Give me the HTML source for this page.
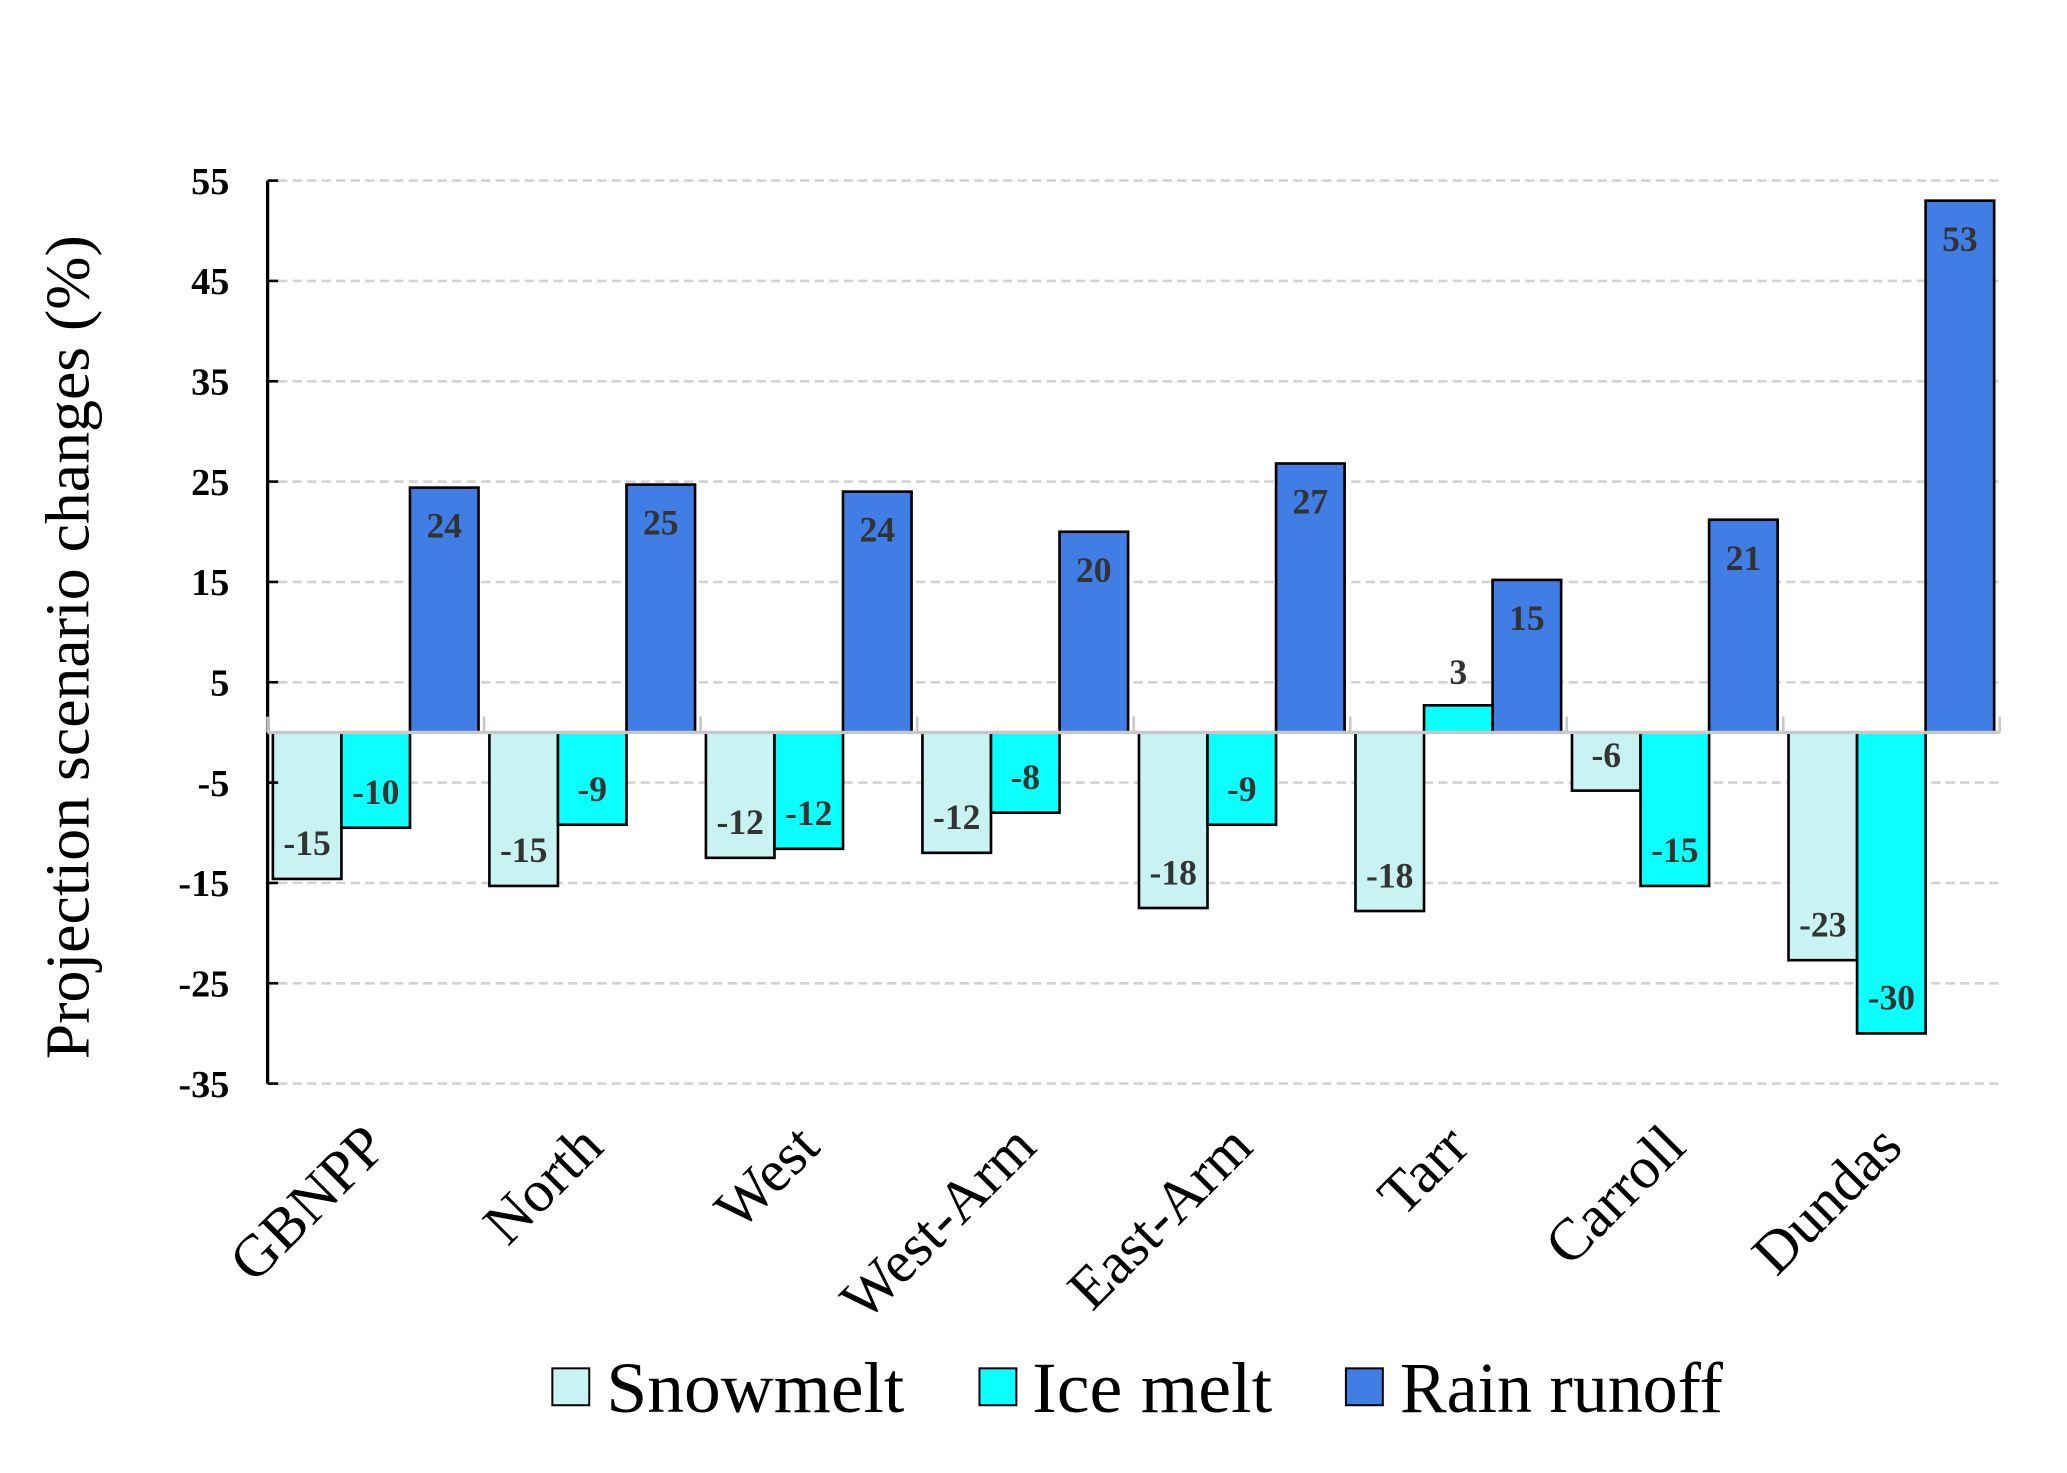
<!DOCTYPE html>
<html><head><meta charset="utf-8"><style>
html,body{margin:0;padding:0;background:#fff;}
svg{display:block;}
text{font-family:"Liberation Serif",serif;}
</style></head><body>
<svg id="chart" width="2067" height="1473" viewBox="0 0 1568 1117.4" xmlns="http://www.w3.org/2000/svg">
<g id="grid"></g>
<g id="bars"></g>
<g id="axes"></g>
<g id="labels"></g>
<text transform="translate(67,491) rotate(-90)" text-anchor="middle" font-size="47" fill="#000" textLength="625" lengthAdjust="spacingAndGlyphs">Projection scenario  changes (%)</text>
<g>
 <g><rect x="419" y="1038" width="28" height="28" fill="#c9f2f2" stroke="#000" stroke-width="1.5"/><text x="460" y="1071" font-size="55" textLength="226" lengthAdjust="spacingAndGlyphs">Snowmelt</text></g>
 <g><rect x="743" y="1038" width="28" height="28" fill="#0cffff" stroke="#000" stroke-width="1.5"/><text x="783" y="1071" font-size="55" textLength="182" lengthAdjust="spacingAndGlyphs">Ice melt</text></g>
 <g><rect x="1021" y="1038" width="28" height="28" fill="#407ee6" stroke="#000" stroke-width="1.5"/><text x="1062" y="1071" font-size="55" textLength="245" lengthAdjust="spacingAndGlyphs">Rain runoff</text></g>
</g>
</svg>
<script>
const categories = ["GBNPP","North","West","West-Arm","East-Arm","Tarr","Carroll","Dundas"];
const snowmelt = [-14.6,-15.3,-12.5,-12,-17.5,-17.8,-5.8,-22.7];
const iceMelt = [-9.5,-9.2,-11.6,-8,-9.2,2.7,-15.3,-30];
const rainRunoff = [24.4,24.7,24,20,26.8,15.2,21.2,53];
const snowLabels = ["-15","-15","-12","-12","-18","-18","-6","-23"];
const iceLabels = ["-10","-9","-12","-8","-9","3","-15","-30"];
const rainLabels = ["24","25","24","20","27","15","21","53"];
const yTicks = [55,45,35,25,15,5,-5,-15,-25,-35];

const NS="http://www.w3.org/2000/svg";
const X0=203, X1=1517, yMax=55, yMin=-35, Ytop=137, Ybot=822;
const groupW=(X1-X0)/categories.length;
function y(v){return Ytop+(yMax-v)*(Ybot-Ytop)/(yMax-yMin);}
function gx(i){return X0+i*groupW;}
function mk(tag,attrs,parent){const e=document.createElementNS(NS,tag);for(const k in attrs)e.setAttribute(k,attrs[k]);parent.appendChild(e);return e;}
const grid=document.getElementById('grid'),bars=document.getElementById('bars'),axes=document.getElementById('axes'),labels=document.getElementById('labels');

yTicks.forEach(t=>{
  const l=mk('line',{x1:X0+8,x2:X1,y1:y(t),y2:y(t),stroke:'#d3d3d3','stroke-width':2,'stroke-dasharray':'7,4'},grid);
  
  
  const tk=mk('line',{x1:X0,x2:X0+8,y1:y(t),y2:y(t),stroke:'#000','stroke-width':2},axes);
  
  
  const tx=mk('text',{x:174,y:y(t)+10,'text-anchor':'end','font-size':29,'font-weight':'bold',fill:'#000'},axes);
  tx.textContent=t;
  
  
});
const ax=mk('line',{x1:X0,x2:X0,y1:Ytop,y2:Ybot,stroke:'#000','stroke-width':2.5},axes);



const series=[{vals:snowmelt,labs:snowLabels,fill:'#c9f2f2',name:'snowmelt'},{vals:iceMelt,labs:iceLabels,fill:'#0cffff',name:'ice-melt'},{vals:rainRunoff,labs:rainLabels,fill:'#407ee6',name:'rain-runoff'}];
const bw=52;
categories.forEach((c,i)=>{
  series.forEach((s,j)=>{
    const v=s.vals[i], x=gx(i)+4+j*bw;
    const top=Math.min(y(v),y(0)), h=Math.abs(y(v)-y(0));
    const r=mk('rect',{x:x,y:top,width:bw,height:h,fill:s.fill,stroke:'#000','stroke-width':2},bars);
    
    
    let ly;
    if(v>=0){ ly = (h<30)? y(v)-16 : y(v)+38; } else { ly = y(v)-18; }
    const t=mk('text',{x:x+bw/2,y:ly,'text-anchor':'middle','font-size':27,'font-weight':'bold',fill:'#333'},labels);
    t.textContent=s.labs[i];
    
    
  });
  const cx=gx(i)+groupW/2;
  const xl=mk('text',{transform:'translate('+(cx+10)+',872) rotate(-45)','text-anchor':'end','font-size':45,fill:'#000'},axes);
  xl.textContent=c;
  
  
});
const zl=mk('line',{x1:X0,x2:X1,y1:y(0),y2:y(0),stroke:'#c8c8c8','stroke-width':2.5},axes);


for(let i=0;i<=categories.length;i++){
  const s=mk('line',{x1:gx(i),x2:gx(i),y1:y(0)-12,y2:y(0),stroke:'#c8c8c8','stroke-width':2},axes);
  
  
}
</script>
</body></html>
